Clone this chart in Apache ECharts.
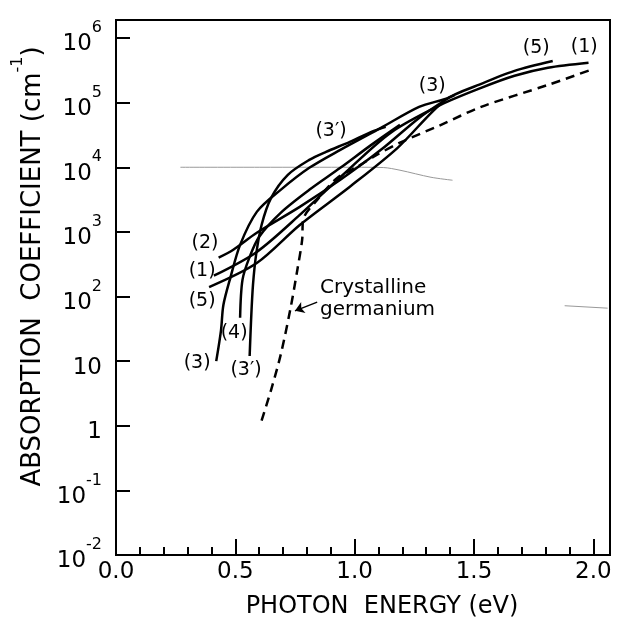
<!DOCTYPE html>
<html><head><meta charset="utf-8">
<script src="https://cdn.jsdelivr.net/npm/echarts@6/dist/echarts.min.js"></script>
<style>html,body{margin:0;padding:0;background:#fff}#c{width:620px;height:625px}</style>
</head><body><div id="c"></div>
<script>
// ---- data (photon energy eV, absorption coefficient cm^-1) ----
const curve1 = [[0.41,210],[0.59,490],[0.77,1830],[0.95,7600],[1.15,34000],[1.36,92000],[1.53,169000],[1.67,260000],[1.81,346000],[1.98,413000]];
const curve2 = [[0.43,400],[0.49,525],[0.59,970],[0.77,2440],[0.94,6400],[1.11,18600],[1.27,58000],[1.38,110000]];
const curve3 = [[0.42,10],[0.44,30],[0.45,74],[0.48,200],[0.52,630],[0.59,2040],[0.69,4470],[0.81,9800],[0.94,18600],[1.11,40700],[1.27,86000],[1.38,114000],[1.42,132000]];
const curve3p = [[0.56,12],[0.566,43],[0.574,151],[0.587,441],[0.61,1280],[0.65,3360],[0.72,7630],[0.81,13000],[0.88,17300],[0.98,24700],[1.07,35300],[1.13,42200]];
const curve4 = [[0.52,47],[0.53,181],[0.56,410],[0.60,840],[0.69,1970],[0.81,4470],[0.94,9800],[1.07,22200],[1.19,45300]];
const curve5 = [[0.39,140],[0.59,330],[0.77,1280],[0.98,5000],[1.18,20000],[1.38,110000],[1.53,195000],[1.67,310000],[1.83,440000]];
const crystalline = [[0.61,1.2],[0.65,3.6],[0.69,12.5],[0.73,62],[0.76,260],[0.78,750],[0.784,1530],[0.843,3130],[0.927,6850],[1.01,10100],[1.078,14500],[1.19,24000],[1.36,45000],[1.53,86000],[1.81,188000],[1.99,322000]];
const faintLine = [[0.27,10000],[0.6,10000],[1.0,10000],[1.12,9900],[1.19,9000],[1.32,7000],[1.41,6300]];
const faintRight = [[1.88,72],[2.06,66]];
const arrowFrom = [0.843,82];
const arrowTo = [0.75,60];
const labelText = ['(2)','(1)','(5)','(4)','(3)','(3′)','(3′)','(3)','(5)','(1)'];
const labelX = [0.373,0.361,0.361,0.495,0.340,0.545,0.901,1.325,1.761,1.962];
const labelY = [676,249,85,27,9.4,7.3,36600,182000,705000,731000];
const noteText = ['Crystalline','germanium'];
const noteX = [0.855,0.855];
const noteY = [136,62];
const xTicks = ['0.0','0.5','1.0','1.5','2.0'];

const FF = 'DejaVu Sans';
const chart = echarts.init(document.getElementById('c'), null, {renderer:'canvas'});
const solid = (name, data) => ({
  name, type:'line', data, symbol:'none', smooth:0.3, silent:true,
  lineStyle:{color:'#000', width:2.5}, z:3
});
const series = [
  solid('(1)', curve1), solid('(2)', curve2), solid('(3)', curve3),
  solid("(3')", curve3p), solid('(4)', curve4), solid('(5)', curve5),
  {name:'Crystalline germanium', type:'line', data:crystalline, symbol:'none', smooth:0.3, silent:true,
   lineStyle:{color:'#000', width:2.5, type:[9,6]}, z:3,
   markLine:{silent:true, symbol:['none','arrow'], symbolSize:9, label:{show:false},
     lineStyle:{color:'#000', type:'solid', width:1.5},
     data:[[{coord:arrowFrom},{coord:arrowTo}]]}},
  {type:'line', data:faintLine, symbol:'none', smooth:0.3, silent:true, lineStyle:{color:'#999', width:1}, z:2},
  {type:'line', data:faintRight, symbol:'none', silent:true, lineStyle:{color:'#999', width:1}, z:2},
  {type:'scatter', silent:true, symbolSize:1, itemStyle:{color:'rgba(0,0,0,0)', opacity:1}, z:5,
   data: labelText.map((t,i)=>[labelX[i], labelY[i], t]),
   label:{show:true, position:'inside', formatter:p=>p.data[2], color:'#000', textBorderWidth:0,
     fontFamily:FF, fontSize:19, align:'center', verticalAlign:'middle'}},
  {type:'scatter', silent:true, symbolSize:1, itemStyle:{color:'rgba(0,0,0,0)', opacity:1}, z:5,
   data: noteText.map((t,i)=>[noteX[i], noteY[i], t]),
   label:{show:true, position:'inside', formatter:p=>p.data[2], color:'#000', textBorderWidth:0,
     fontFamily:FF, fontSize:20, align:'left', verticalAlign:'middle'}}
];

chart.setOption({
  animation:false,
  backgroundColor:'#fff',
  grid:{left:116, right:10, top:20, bottom:70, show:true, borderColor:'#000', borderWidth:2},
  xAxis:{
    type:'value', min:0, max:2.07, interval:0.5,
    axisLine:{lineStyle:{color:'#000', width:2}},
    axisTick:{inside:true, length:16, lineStyle:{color:'#000', width:2}},
    minorTick:{show:true, splitNumber:5, length:8, lineStyle:{color:'#000', width:2}},
    splitLine:{show:false}, minorSplitLine:{show:false},
    axisLabel:{color:'#000', fontFamily:FF, fontSize:23, margin:6,
      formatter:v=>{const k=Math.round(v*2); return Math.abs(v*2-k)<1e-6 ? (xTicks[k]||'') : '';}},
    name:'PHOTON  ENERGY (eV)', nameLocation:'middle', nameGap:40,
    nameTextStyle:{color:'#000', fontFamily:FF, fontSize:24, padding:[0,0,0,38]}
  },
  yAxis:{
    type:'log', logBase:10, min:0.01, max:1.9e6, interval:1, splitNumber:8,
    axisLine:{lineStyle:{color:'#000', width:2}},
    axisTick:{inside:true, length:14, lineStyle:{color:'#000', width:2}},
    splitLine:{show:false}, minorTick:{show:false},
    axisLabel:{margin:14,
      formatter:v=>{const e=Math.log10(v); const r=Math.round(e); if(Math.abs(e-r)>1e-6) return '';
        if(r===0) return '{b|1}'; if(r===1) return '{b|10}'; return '{b|10}{s|'+r+'}';},
      rich:{b:{fontFamily:FF, fontSize:23, color:'#000', lineHeight:36, verticalAlign:'bottom'},
            s:{fontFamily:FF, fontSize:16, color:'#000', lineHeight:36, verticalAlign:'top'}}},
    name:'{n|ABSORPTION  COEFFICIENT (cm}{s|-1}{n|)}', nameLocation:'middle', nameGap:62, nameRotate:90,
    nameTextStyle:{padding:[0,0,0,42],
      rich:{n:{fontFamily:FF, fontSize:26, color:'#000', lineHeight:36, verticalAlign:'bottom'},
            s:{fontFamily:FF, fontSize:16, color:'#000', lineHeight:36, verticalAlign:'top'}}}
  },
  series
});
</script></body></html>
